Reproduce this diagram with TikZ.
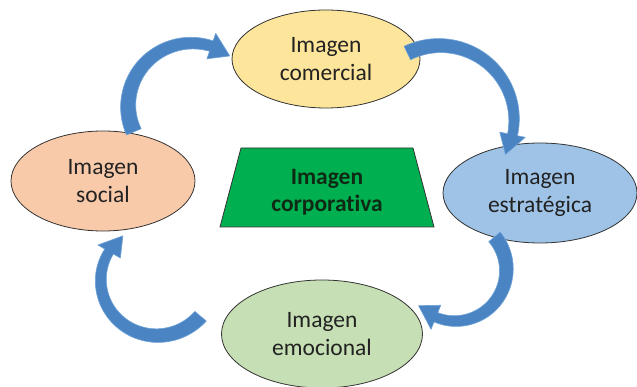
\documentclass[tikz,border=0pt]{standalone}
\usepackage{fontspec}
\setmainfont{Carlito}[Ligatures=NoCommon]
\usetikzlibrary{shapes.geometric}
\definecolor{cYel}{HTML}{FDE59B}
\definecolor{cOra}{HTML}{F8CAAA}
\definecolor{cBlu}{HTML}{9EC3E6}
\definecolor{cGre}{HTML}{C6DFB4}
\definecolor{cTrap}{HTML}{00B050}
\definecolor{cArrow}{HTML}{4A84C2}
\definecolor{cArrowEdge}{HTML}{6FA3D8}
\definecolor{cTxt}{HTML}{222222}
\definecolor{cTrapTxt}{HTML}{0F2A14}
\newcommand\curvarrow[8]{%
  \pgfmathsetmacro\rmidA{(#6+#8)/2}%
  \pgfmathsetmacro\tipA{#4+21/\rmidA*57.3}%
  \fill[arrowstyle]
    plot[domain=#3:#4,samples=60,variable=\t]
      ({#1+(#5+(#6-#5)*(\t-#3)/(#4-#3))*cos(\t)},{#2+(#5+(#6-#5)*(\t-#3)/(#4-#3))*sin(\t)})
    -- ({#1+(#6+8)*cos(#4)},{#2+(#6+8)*sin(#4)})
    -- ({#1+\rmidA*cos(\tipA)},{#2+\rmidA*sin(\tipA)})
    -- ({#1+(#8-8)*cos(#4)},{#2+(#8-8)*sin(#4)})
    -- plot[domain=#4:#3,samples=60,variable=\t]
      ({#1+(#7+(#8-#7)*(\t-#3)/(#4-#3))*cos(\t)},{#2+(#7+(#8-#7)*(\t-#3)/(#4-#3))*sin(\t)})
    -- cycle;}
\tikzset{
  bubble/.style={ellipse, draw=black!80, line width=0.8pt, inner sep=0pt,
    text=cTxt, align=center, font=\fontsize{23.5}{28}\selectfont},
  arrowstyle/.style={fill=cArrow, draw=cArrowEdge, line width=0.6pt, line join=round},
  trapfill/.style={fill=cTrap, draw=black!80, line width=0.8pt, line join=miter},
  traptext/.style={inner sep=0pt, text=cTrapTxt, align=center,
    font=\fontsize{23.5}{27}\selectfont\bfseries}
}
\begin{document}
\begin{tikzpicture}[x=1pt,y=-1pt]
\useasboundingbox (0,0) rectangle (637,387);
\fill[white] (0,0) rectangle (637,387);
\node[bubble, fill=cYel, minimum width=188pt, minimum height=98pt] (com) at (326,59) {Imagen\\comercial};
\node[bubble, fill=cOra, minimum width=184pt, minimum height=100pt] (soc) at (103,181) {Imagen\\social};
\node[bubble, fill=cBlu, minimum width=194pt, minimum height=100pt] (est) at (540,193) {Imagen\\estratégica};
\node[bubble, fill=cGre, minimum width=201pt, minimum height=108pt] (emo) at (322,334) {Imagen\\emocional};
\filldraw[trapfill] (241,148) -- (413,148) -- (434,227) -- (220,227) -- cycle;
\node[traptext] (corp) at (327,192) {Imagen\\corporativa};
% curved block arrows (centre x, centre y, start angle, end angle, outer r0, outer r1, inner r0, inner r1)
\curvarrow{190}{108}{157}{289}{69}{71}{53}{60}
\curvarrow{440}{120}{244}{371.5}{82}{79}{67}{69}
\curvarrow{455}{270}{320}{472}{59}{56}{44}{46}
\curvarrow{155}{278}{40}{210}{67}{58}{52}{48}
\end{tikzpicture}
\end{document}
